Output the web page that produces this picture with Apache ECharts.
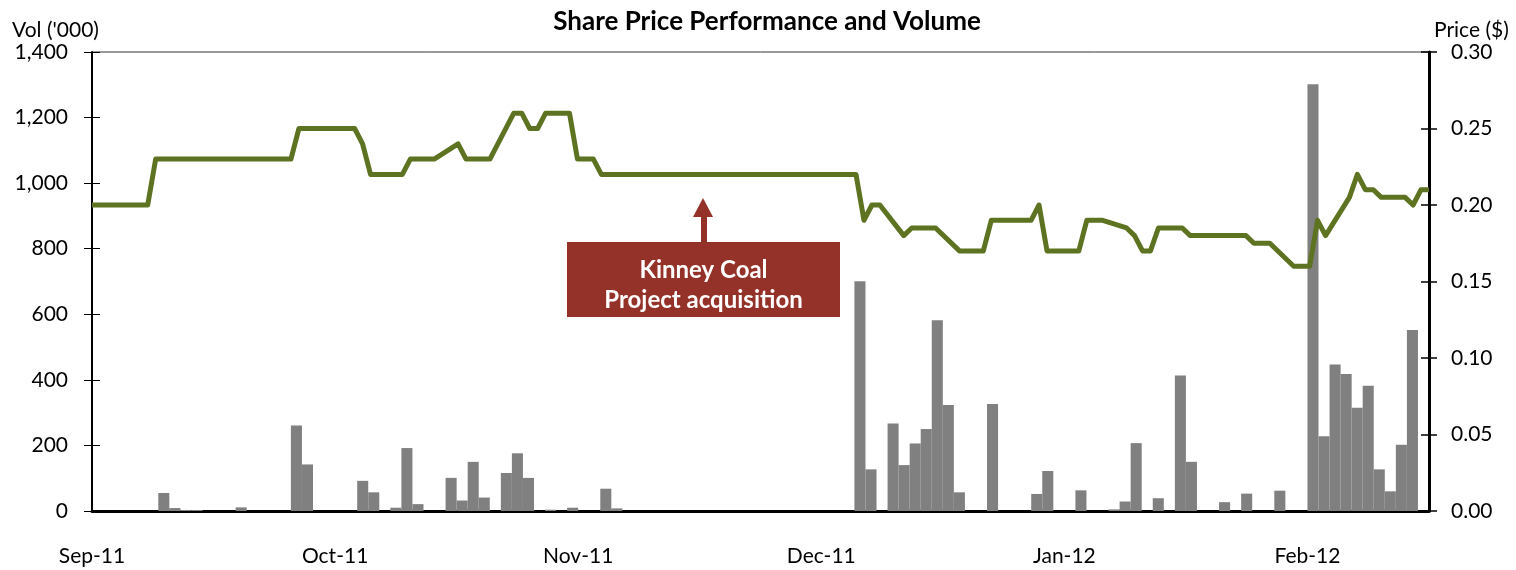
<!DOCTYPE html>
<html>
<head>
<meta charset="utf-8">
<script src="https://cdn.jsdelivr.net/npm/echarts@6/dist/echarts.min.js"></script>
<style>
html,body{margin:0;padding:0;background:#fff;}
#chart{width:1516px;height:570px;}
</style>
</head>
<body>
<div id="chart"></div>
<script>
// Trading-day volumes ('000), Sep 1 2011 .. Feb 16 2012 (weekdays)
const volSep = [0,0,0,0,0,0,55,9,3,3,0,0,0,11,0,0,0,0,261,142,0,0];
const volOct = [0,0,92,57,0,10,192,21,0,0,101,32,150,41,0,116,176,101,0,4,0];
const volNov = [10,0,0,68,8,0,0,0,0,0,0,0,0,0,0,0,0,0,0,0,0,0];
const volDec = [0,0,0,0,701,127,0,267,140,206,250,582,323,57,0,0,326,0,0,0,52,122];
const volJan = [0,0,63,0,0,5,29,207,0,39,0,413,150,0,0,27,0,53,0,0,62,0];
const volFeb = [0,1302,228,447,418,315,382,127,60,202,552,0];

// Closing share price ($) for the same trading days
const priceSep = [0.20,0.20,0.20,0.20,0.20,0.20,0.23,0.23,0.23,0.23,0.23,0.23,0.23,0.23,0.23,0.23,0.23,0.23,0.25,0.25,0.25,0.25];
const priceOct = [0.25,0.25,0.24,0.22,0.22,0.22,0.23,0.23,0.23,0.23,0.24,0.23,0.23,0.23,0.23,0.26,0.26,0.25,0.25,0.26,0.26];
const priceNov = [0.23,0.23,0.23,0.22,0.22,0.22,0.22,0.22,0.22,0.22,0.22,0.22,0.22,0.22,0.22,0.22,0.22,0.22,0.22,0.22,0.22,0.22];
const priceDec = [0.22,0.22,0.22,0.22,0.19,0.20,0.20,0.18,0.185,0.185,0.185,0.185,0.17,0.17,0.17,0.17,0.19,0.19,0.19,0.19,0.20,0.17];
const priceJan = [0.17,0.17,0.19,0.19,0.19,0.185,0.18,0.17,0.17,0.185,0.185,0.18,0.18,0.18,0.18,0.18,0.18,0.175,0.175,0.175,0.16,0.16];
const priceFeb = [0.16,0.19,0.18,0.205,0.22,0.21,0.21,0.205,0.205,0.20,0.21,0.21];

const tickLabels = ['Sep-11','Oct-11','Nov-11','Dec-11','Jan-12','Feb-12'];
const tickIndex = [0,22,44,66,88,110];
const startDate = '2011-09-01';
const endDate = '2012-02-16';

// trading days (weekdays) between start and end
function pad(n){return n<10?'0'+n:''+n;}
const days = [];
(function(){
  const d = new Date(2011,8,1), e = new Date(2012,1,16);
  while (d <= e) {
    const w = d.getDay();
    if (w !== 0 && w !== 6) days.push(d.getFullYear()+'-'+pad(d.getMonth()+1)+'-'+pad(d.getDate()));
    d.setDate(d.getDate()+1);
  }
})();

const volumes = [].concat(volSep, volOct, volNov, volDec, volJan, volFeb);
const prices = [].concat(priceSep, priceOct, priceNov, priceDec, priceJan, priceFeb);
const priceData = days.map((d,i) => [d, prices[i]]);

const FONT = 'Lato, "Liberation Sans", sans-serif';
const chart = echarts.init(document.getElementById('chart'), null, {renderer:'canvas'});
const option = {
  animation: false,
  backgroundColor: '#fff',
  grid: {left: 92, right: 87, top: 52, bottom: 59, show: true, borderColor: '#333', borderWidth: 1},
  xAxis: [
    {
      type: 'category', data: days, boundaryGap: true,
      axisLine: {lineStyle: {color: '#000', width: 3}},
      axisTick: {show: false},
      axisLabel: {
        interval: 0, margin: 35, color: '#000', fontSize: 21, fontFamily: FONT,
        padding: [0, 11, 0, 0],
        formatter: function(v, idx){ const k = tickIndex.indexOf(idx); return k >= 0 ? tickLabels[k] : ''; }
      },
      splitLine: {show: false}
    },
    {
      type: 'time', min: startDate, max: endDate, show: false
    }
  ],
  yAxis: [
    {
      type: 'value', position: 'left', min: 0, max: 1400, interval: 200,
      axisLine: {show: true, lineStyle: {color: '#000', width: 2}},
      axisTick: {show: true, length: 8, lineStyle: {color: '#000', width: 1}},
      axisLabel: {margin: 24, color: '#000', fontSize: 21, fontFamily: FONT,
        formatter: v => v.toLocaleString('en-US')},
      splitLine: {show: false}
    },
    {
      type: 'value', position: 'right', min: 0, max: 0.30, interval: 0.05,
      axisLine: {show: true, lineStyle: {color: '#000', width: 3}},
      axisTick: {show: true, length: 8, lineStyle: {color: '#000', width: 1.5}},
      axisLabel: {margin: 22, color: '#000', fontSize: 21, fontFamily: FONT,
        formatter: v => v.toFixed(2)},
      splitLine: {show: false}
    },
    {
      type: 'value', position: 'left', min: 0, max: 1400, interval: 200,
      axisLine: {show: false}, axisLabel: {show: false}, splitLine: {show: false},
      axisTick: {show: true, inside: true, length: 8, lineStyle: {color: '#000', width: 1}}
    },
    {
      type: 'value', position: 'right', min: 0, max: 0.30, interval: 0.05,
      axisLine: {show: false}, axisLabel: {show: false}, splitLine: {show: false},
      axisTick: {show: true, inside: true, length: 8, lineStyle: {color: '#000', width: 1.5}}
    }
  ],
  series: [
    {
      name: 'Volume', type: 'bar', xAxisIndex: 0, yAxisIndex: 0,
      data: volumes, barCategoryGap: '0%', barGap: '0%',
      itemStyle: {color: '#808080'}, z: 2
    },
    {
      name: 'Price', type: 'line', xAxisIndex: 1, yAxisIndex: 1,
      data: priceData, showSymbol: false, symbol: 'none',
      lineStyle: {color: '#5E7321', width: 5, join: 'round', cap: 'butt'}, z: 3
    }
  ],
  graphic: [
    {type: 'text', x: 767, y: 22, style: {text: 'Share Price Performance and Volume', fill: '#000',
      font: 'bold 26px ' + FONT, textAlign: 'center', textVerticalAlign: 'middle'}},
    {type: 'text', x: 12, y: 30, style: {text: "Vol ('000)", fill: '#000',
      font: '21px ' + FONT, textAlign: 'left', textVerticalAlign: 'middle'}},
    {type: 'text', x: 1434, y: 30, style: {text: 'Price ($)', fill: '#000',
      font: '21px ' + FONT, textAlign: 'left', textVerticalAlign: 'middle'}},
    {type: 'rect', shape: {x: 567, y: 242, width: 273, height: 75}, style: {fill: '#943128'}, z: 10},
    {type: 'rect', shape: {x: 701, y: 216, width: 6, height: 27}, style: {fill: '#943128'}, z: 10},
    {type: 'polygon', shape: {points: [[693,217],[713,217],[703,198]]}, style: {fill: '#943128'}, z: 10},
    {type: 'text', x: 703.5, y: 270, z: 11, style: {text: 'Kinney Coal', fill: '#fff',
      font: 'bold 24px ' + FONT, textAlign: 'center', textVerticalAlign: 'middle'}},
    {type: 'text', x: 703.5, y: 300, z: 11, style: {text: 'Project acquisition', fill: '#fff',
      font: 'bold 24px ' + FONT, textAlign: 'center', textVerticalAlign: 'middle'}}
  ]
};
chart.setOption(option);
</script>
</body>
</html>
